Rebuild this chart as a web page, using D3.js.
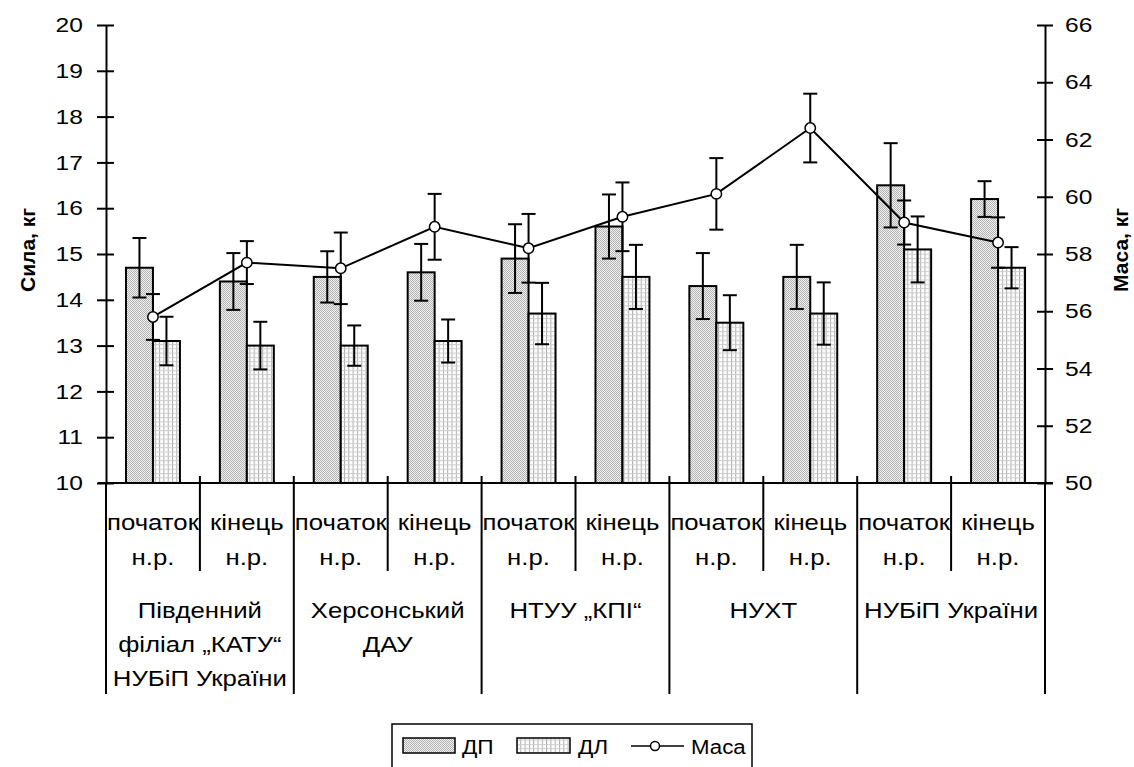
<!DOCTYPE html>
<html>
<head>
<meta charset="utf-8">
<script src="https://cdn.jsdelivr.net/npm/d3@7"></script>
<style>
  body { margin: 0; background: #fff; }
  svg { display: block; font-family: "Liberation Sans", Arial, sans-serif; }
</style>
</head>
<body>
<div id="chart-area"></div>
<script>
// DATA
var subLabels = [["початок", "н.р."], ["кінець", "н.р."]];
var groupLabels = [
    ["Південний", "філіал „КАТУ“", "НУБіП України"],
    ["Херсонський", "ДАУ"],
    ["НТУУ „КПІ“"],
    ["НУХТ"],
    ["НУБіП України"]
];
var dp    = [14.7, 14.4, 14.5, 14.6, 14.9, 15.6, 14.3, 14.5, 16.5, 16.2];
var dpErr = [0.65, 0.62, 0.56, 0.62, 0.75, 0.70, 0.72, 0.70, 0.92, 0.39];
var dl    = [13.1, 13.0, 13.0, 13.1, 13.7, 14.5, 13.5, 13.7, 15.1, 14.7];
var dlErr = [0.53, 0.52, 0.44, 0.47, 0.67, 0.70, 0.60, 0.68, 0.72, 0.45];
var mass    = [55.8, 57.7, 57.5, 58.95, 58.2, 59.3, 60.1, 62.4, 59.1, 58.4];
var massErr = [0.80, 0.75, 1.25, 1.15, 1.20, 1.20, 1.25, 1.20, 0.77, 0.88];
var leftTicks = [10, 11, 12, 13, 14, 15, 16, 17, 18, 19, 20];
var rightTicks = [50, 52, 54, 56, 58, 60, 62, 64, 66];

var W = 1134, H = 767;
var mLeft = 106, mRight = 1045, mTop = 25, base = 483;
var tickStretch = 1.17;

var svg = d3.select("#chart-area").append("svg")
    .attr("width", W)
    .attr("height", H);

// text is a bit wide in the picture
function wideText(g, x, y, sx, size, str) {
    return g.append("text")
        .attr("transform", "translate(" + x + "," + y + ") scale(" + sx + ",1)")
        .attr("font-size", size)
        .text(str);
}

// patterns
var defs = svg.append("defs");
// ДП: fine grey stipple
var pDP = defs.append("pattern")
    .attr("id", "pDP").attr("patternUnits", "userSpaceOnUse")
    .attr("width", 2).attr("height", 2);
pDP.append("rect").attr("width", 2).attr("height", 2).attr("fill", "#efefef");
pDP.append("rect").attr("x", 0).attr("y", 0).attr("width", 1).attr("height", 1).attr("fill", "#b4b4b4");
pDP.append("rect").attr("x", 1).attr("y", 1).attr("width", 1).attr("height", 1).attr("fill", "#b4b4b4");
// ДЛ: small grid
var pDL = defs.append("pattern")
    .attr("id", "pDL").attr("patternUnits", "userSpaceOnUse")
    .attr("width", 4.3).attr("height", 4.3);
pDL.append("rect").attr("width", 4.3).attr("height", 4.3).attr("fill", "#fff");
pDL.append("rect").attr("x", 0).attr("y", 0).attr("width", 1).attr("height", 4.3).attr("fill", "#acacac");
pDL.append("rect").attr("x", 0).attr("y", 0).attr("width", 4.3).attr("height", 1).attr("fill", "#cdcdcd");

// Scales
var x = d3.scaleBand().domain(d3.range(10)).range([mLeft, mRight]);
var xSub = d3.scaleBand().domain(["dp", "dl"]).range([0, x.bandwidth()]).paddingOuter(0.74);
var y = d3.scaleLinear().domain([10, 20]).range([base, mTop]);
var y2 = d3.scaleLinear().domain([50, 66]).range([base, mTop]);

// Axes
var yAxis = svg.append("g")
    .attr("transform", "translate(" + mLeft + ",0)")
    .call(d3.axisLeft(y).tickValues(leftTicks).tickSize(9).tickSizeOuter(0).tickPadding(10.7));
var y2Axis = svg.append("g")
    .attr("transform", "translate(" + mRight + ",0)")
    .call(d3.axisRight(y2).tickValues(rightTicks).tickSize(8).tickSizeOuter(0).tickPadding(9.1));
yAxis.selectAll(".tick line").attr("x1", 8);
y2Axis.selectAll(".tick line").attr("x1", -8);
[yAxis, y2Axis].forEach(function(a) {
    a.select(".domain").attr("stroke", "#000").attr("stroke-width", 2);
    a.selectAll(".tick line").attr("stroke", "#000").attr("stroke-width", 2);
    a.selectAll("text").attr("font-size", 21).attr("fill", "#000")
        .attr("font-family", "Liberation Sans, Arial, sans-serif")
        .attr("transform", "scale(" + tickStretch + ",1)");
});

// axis titles
svg.append("text")
    .attr("transform", "translate(35,250) rotate(-90)")
    .attr("text-anchor", "middle")
    .attr("font-size", 21).attr("font-weight", "bold")
    .text("Сила, кг");
svg.append("text")
    .attr("transform", "translate(1128,250) rotate(-90)")
    .attr("text-anchor", "middle")
    .attr("font-size", 21).attr("font-weight", "bold")
    .text("Маса, кг");

// bars
var series = [
    { key: "dp", vals: dp, err: dpErr, fill: "url(#pDP)" },
    { key: "dl", vals: dl, err: dlErr, fill: "url(#pDL)" }
];
series.forEach(function(s) {
    svg.append("g").selectAll("rect")
        .data(s.vals)
        .join("rect")
        .attr("x", (d, i) => x(i) + xSub(s.key))
        .attr("y", d => y(d))
        .attr("width", xSub.bandwidth())
        .attr("height", d => base - y(d))
        .attr("fill", s.fill)
        .attr("stroke", "#000")
        .attr("stroke-width", 2);
});

function errorBars(g, cx, vals, errs, scale) {
    var eb = g.append("g").attr("stroke", "#000").attr("stroke-width", 2);
    vals.forEach(function(v, i) {
        var xc = cx(i);
        eb.append("line").attr("x1", xc).attr("x2", xc)
            .attr("y1", scale(v + errs[i])).attr("y2", scale(v - errs[i]));
        [v + errs[i], v - errs[i]].forEach(function(e) {
            eb.append("line").attr("x1", xc - 7).attr("x2", xc + 7)
                .attr("y1", scale(e)).attr("y2", scale(e));
        });
    });
}
series.forEach(function(s) {
    errorBars(svg, i => x(i) + xSub(s.key) + xSub.bandwidth() / 2, s.vals, s.err, y);
});

// mass line
var cx = i => x(i) + x.bandwidth() / 2;
var line = d3.line().x((d, i) => cx(i)).y(d => y2(d));
svg.append("path")
    .attr("d", line(mass))
    .attr("fill", "none")
    .attr("stroke", "#000")
    .attr("stroke-width", 2);
errorBars(svg, cx, mass, massErr, y2);
svg.append("g").selectAll("circle")
    .data(mass)
    .join("circle")
    .attr("cx", (d, i) => cx(i))
    .attr("cy", d => y2(d))
    .attr("r", 5.2)
    .attr("fill", "#fff")
    .attr("stroke", "#000")
    .attr("stroke-width", 1.5);

// category axis: x line and separators
var cat = svg.append("g").attr("stroke", "#000").attr("stroke-width", 2);
cat.append("line").attr("x1", mLeft - 8).attr("x2", mRight + 8).attr("y1", base).attr("y2", base);
d3.range(11).forEach(function(i) {
    var xp = i < 10 ? x(i) : mRight;
    var isGroup = i % 2 === 0;
    cat.append("line").attr("x1", xp).attr("x2", xp)
        .attr("y1", isGroup && (i === 0 || i === 10) ? base : base - 7)
        .attr("y2", isGroup ? 694 : 571);
});

// category labels
var lab = svg.append("g").attr("text-anchor", "middle").attr("fill", "#000");
d3.range(10).forEach(function(i) {
    subLabels[i % 2].forEach(function(t, k) {
        wideText(lab, cx(i), 530 + k * 35, 1.12, 23, t);
    });
});
groupLabels.forEach(function(lines, gi) {
    var gx = x(gi * 2) + x.bandwidth();
    lines.forEach(function(t, k) {
        wideText(lab, gx, 618 + k * 34, 1.12, 23, t);
    });
});

// legend
var lg = svg.append("g");
lg.append("rect").attr("x", 392).attr("y", 724).attr("width", 360).attr("height", 80)
    .attr("fill", "none").attr("stroke", "#000").attr("stroke-width", 1.5);
lg.append("rect").attr("x", 403).attr("y", 738).attr("width", 52).attr("height", 15)
    .attr("fill", "url(#pDP)").attr("stroke", "#000").attr("stroke-width", 1.5);
wideText(lg, 462, 754, 1.08, 21, "ДП");
lg.append("rect").attr("x", 517).attr("y", 738).attr("width", 53).attr("height", 15)
    .attr("fill", "url(#pDL)").attr("stroke", "#000").attr("stroke-width", 1.5);
wideText(lg, 578, 754, 1.08, 21, "ДЛ");
lg.append("line").attr("x1", 631).attr("x2", 684).attr("y1", 746).attr("y2", 746)
    .attr("stroke", "#000").attr("stroke-width", 1.5);
lg.append("circle").attr("cx", 655).attr("cy", 746).attr("r", 4.5)
    .attr("fill", "#fff").attr("stroke", "#000").attr("stroke-width", 1.5);
wideText(lg, 691, 754, 1.06, 21, "Маса");
</script>
</body>
</html>
